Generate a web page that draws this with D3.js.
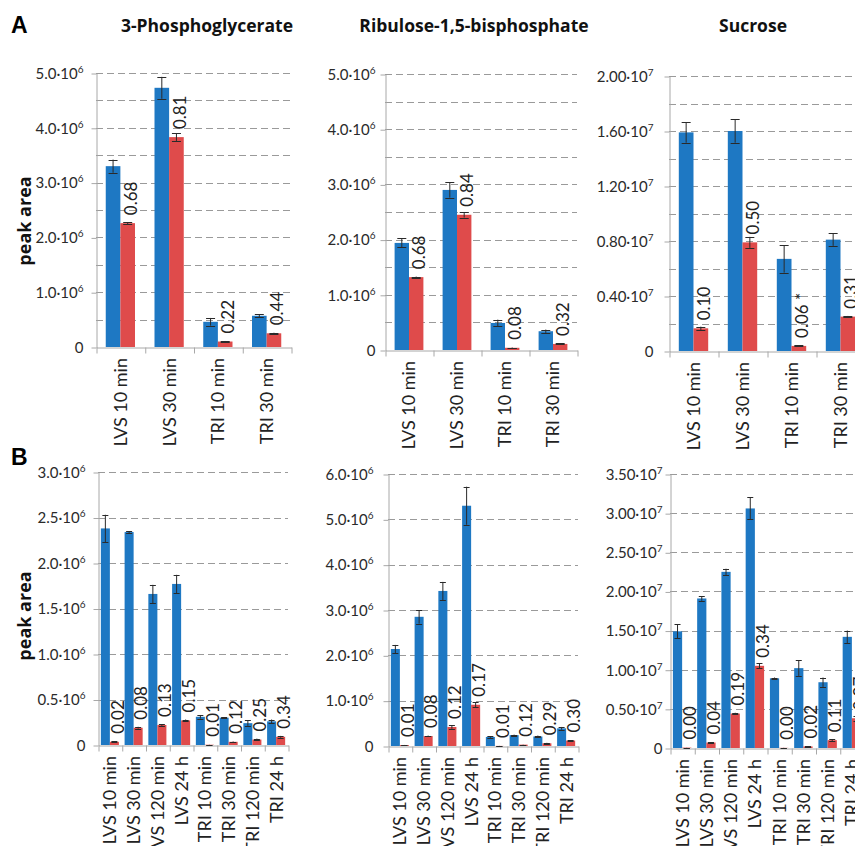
<!DOCTYPE html>
<html>
<head>
<meta charset="utf-8">
<script src="https://cdn.jsdelivr.net/npm/d3@7"></script>
<style>
  body { margin: 0; background: #fff; }
  svg { display: block; }
</style>
</head>
<body>
<svg id="chart"></svg>
<script>
var catsA = ["LVS 10 min", "LVS 30 min", "TRI 10 min", "TRI 30 min"];
var catsB = ["LVS 10 min", "LVS 30 min", "LVS 120 min", "LVS 24 h",
             "TRI 10 min", "TRI 30 min", "TRI 120 min", "TRI 24 h"];

// panel A, 3-phosphoglycerate
var pgaA = [3.30e6, 4.73e6, 0.46e6, 0.57e6];
var pgaAErr = [0.12e6, 0.20e6, 0.07e6, 0.03e6];
var pgaATreat = [2.26e6, 3.83e6, 0.10e6, 0.25e6];
var pgaATreatErr = [0.02e6, 0.07e6, 0.01e6, 0.01e6];
var pgaARatio = ["0.68", "0.81", "0.22", "0.44"];

// panel A, ribulose-1,5-bisphosphate
var rubpA = [1.94e6, 2.90e6, 0.49e6, 0.34e6];
var rubpAErr = [0.08e6, 0.14e6, 0.06e6, 0.03e6];
var rubpATreat = [1.32e6, 2.45e6, 0.04e6, 0.11e6];
var rubpATreatErr = [0.01e6, 0.05e6, 0.005e6, 0.01e6];
var rubpARatio = ["0.68", "0.84", "0.08", "0.32"];

// panel A, sucrose
var sucA = [1.59e7, 1.60e7, 0.67e7, 0.81e7];
var sucAErr = [0.075e7, 0.085e7, 0.10e7, 0.045e7];
var sucATreat = [0.165e7, 0.79e7, 0.037e7, 0.25e7];
var sucATreatErr = [0.012e7, 0.04e7, 0.004e7, 0.005e7];
var sucARatio = ["0.10", "0.50", "0.06 *", "0.31"];

// panel B, 3-phosphoglycerate
var pgaB = [2.38e6, 2.34e6, 1.66e6, 1.77e6, 0.31e6, 0.30e6, 0.24e6, 0.26e6];
var pgaBErr = [0.15e6, 0.01e6, 0.10e6, 0.10e6, 0.02e6, 0.005e6, 0.03e6, 0.02e6];
var pgaBTreat = [0.035e6, 0.19e6, 0.22e6, 0.27e6, 0.003e6, 0.035e6, 0.06e6, 0.09e6];
var pgaBTreatErr = [0.005e6, 0.01e6, 0.01e6, 0.01e6, 0.001e6, 0.003e6, 0.01e6, 0.01e6];
var pgaBRatio = ["0.02", "0.08", "0.13", "0.15", "0.01", "0.12", "0.25", "0.34"];

// panel B, ribulose-1,5-bisphosphate
var rubpB = [2.14e6, 2.85e6, 3.42e6, 5.30e6, 0.20e6, 0.24e6, 0.21e6, 0.39e6];
var rubpBErr = [0.09e6, 0.15e6, 0.20e6, 0.42e6, 0.02e6, 0.01e6, 0.02e6, 0.03e6];
var rubpBTreat = [0.02e6, 0.22e6, 0.42e6, 0.91e6, 0.002e6, 0.03e6, 0.06e6, 0.12e6];
var rubpBTreatErr = [0.003e6, 0.01e6, 0.04e6, 0.06e6, 0.001e6, 0.003e6, 0.01e6, 0.01e6];
var rubpBRatio = ["0.01", "0.08", "0.12", "0.17", "0.01", "0.12", "0.29", "0.30"];

// panel B, sucrose
var sucB = [1.49e7, 1.91e7, 2.25e7, 3.06e7, 0.89e7, 1.02e7, 0.84e7, 1.42e7];
var sucBErr = [0.09e7, 0.03e7, 0.04e7, 0.14e7, 0.01e7, 0.10e7, 0.06e7, 0.08e7];
var sucBTreat = [0.005e7, 0.07e7, 0.44e7, 1.05e7, 0.002e7, 0.02e7, 0.10e7, 0.38e7];
var sucBTreatErr = [0.001e7, 0.005e7, 0.01e7, 0.03e7, 0.001e7, 0.003e7, 0.01e7, 0.03e7];
var sucBRatio = ["0.00", "0.04", "0.19", "0.34", "0.00", "0.02", "0.11", "0.27"];

var width = 855;
var height = 846;
var blue = "#1e78c3";
var red = "#df4b4b";
var axisColor = "#a8a8a8";
var gridColor = "#9a9a9a";
var tickFont = "Lato, 'Open Sans', sans-serif";

var svg = d3.select("#chart").attr("width", width).attr("height", height);
svg.append("rect").attr("width", width).attr("height", height).attr("fill", "#fff");

var charts = [
  { cats: catsA, ctrl: pgaA, ctrlErr: pgaAErr, treat: pgaATreat, treatErr: pgaATreatErr, ratio: pgaARatio,
    x0: 96, x1: 291, yTop: 73, y0: 347, max: 5e6, grid: 0.5e6, step: 1e6, dec: 1, exp: 6, gap: 13, group: 0.6, cap: 9 },
  { cats: catsA, ctrl: rubpA, ctrlErr: rubpAErr, treat: rubpATreat, treatErr: rubpATreatErr, ratio: rubpARatio,
    x0: 385, x1: 577, yTop: 74, y0: 350, max: 5e6, grid: 0.5e6, step: 1e6, dec: 1, exp: 6, gap: 10, group: 0.6, cap: 9 },
  { cats: catsA, ctrl: sucA, ctrlErr: sucAErr, treat: sucATreat, treatErr: sucATreatErr, ratio: sucARatio,
    x0: 669, x1: 865, yTop: 76, y0: 351, max: 2e7, grid: 0.2e7, step: 0.4e7, dec: 2, exp: 7, gap: 16, group: 0.6, cap: 9 },
  { cats: catsB, ctrl: pgaB, ctrlErr: pgaBErr, treat: pgaBTreat, treatErr: pgaBTreatErr, ratio: pgaBRatio,
    x0: 98, x1: 288, yTop: 472, y0: 745, max: 3e6, grid: 0.5e6, step: 0.5e6, dec: 1, exp: 6, gap: 13, group: 0.76, cap: 6 },
  { cats: catsB, ctrl: rubpB, ctrlErr: rubpBErr, treat: rubpBTreat, treatErr: rubpBTreatErr, ratio: rubpBRatio,
    x0: 388, x1: 578, yTop: 474, y0: 746, max: 6e6, grid: 1e6, step: 1e6, dec: 1, exp: 6, gap: 15, group: 0.76, cap: 6 },
  { cats: catsB, ctrl: sucB, ctrlErr: sucBErr, treat: sucBTreat, treatErr: sucBTreatErr, ratio: sucBRatio,
    x0: 670, x1: 864, yTop: 474, y0: 748, max: 3.5e7, grid: 0.5e7, step: 0.5e7, dec: 2, exp: 7, gap: 8, group: 0.76, cap: 6 }
];

var drawChart = (c) => {
  var g = svg.append("g");
  var n = c.cats.length;

  var xScale = d3.scaleBand().domain(c.cats).range([c.x0, c.x1]);
  var pad = 1 / c.group - 1;
  var sub = d3.scaleBand().domain(["ctrl", "treat"]).range([0, xScale.bandwidth()]).paddingOuter(pad);
  var yScale = d3.scaleLinear().domain([0, c.max]).range([c.y0, c.yTop]);

  // dashed gridlines
  var gridVals = d3.range(1, Math.round(c.max / c.grid) + 1).map((i) => i * c.grid);
  g.selectAll(".grid")
    .data(gridVals)
    .enter()
    .append("line")
    .attr("x1", c.x0)
    .attr("x2", c.x1)
    .attr("y1", (d) => Math.round(yScale(d)) + 0.5)
    .attr("y2", (d) => Math.round(yScale(d)) + 0.5)
    .attr("stroke", gridColor)
    .attr("stroke-dasharray", "7,4");

  // y axis
  var tickVals = d3.range(0, Math.round(c.max / c.step) + 1).map((i) => i * c.step);
  var yAxis = d3.axisLeft(yScale)
    .tickValues(tickVals)
    .tickSize(5)
    .tickSizeOuter(0)
    .tickPadding(c.gap - 5)
    .tickFormat("");
  var ya = g.append("g").attr("transform", "translate(" + (c.x0 + 0.5) + ",0.5)").call(yAxis);
  ya.select(".domain").attr("stroke", axisColor);
  ya.selectAll(".tick line").attr("stroke", axisColor);
  ya.selectAll(".tick text")
    .attr("font-family", tickFont)
    .attr("font-size", 15)
    .attr("fill", "#2a2a2a")
    .each(function (d) {
      var t = d3.select(this);
      if (d === 0) {
        t.text("0");
        return;
      }
      var m = (d / Math.pow(10, c.exp)).toFixed(c.dec);
      t.text(m + "\u00B710");
      t.append("tspan").attr("font-size", 10).attr("dy", "-0.6em").text(String(c.exp));
    });

  // x axis with ticks at category boundaries
  var edge = d3.scaleLinear().domain([0, n]).range([c.x0, c.x1]);
  var xa = g.append("g")
    .attr("transform", "translate(0.5," + (c.y0 + 0.5) + ")")
    .call(d3.axisBottom(edge).ticks(n).tickSize(6).tickSizeOuter(0).tickFormat(""));
  xa.select(".domain").attr("stroke", axisColor);
  xa.selectAll(".tick line").attr("stroke", axisColor);

  var rows = c.cats.map((cat, i) => ({
    cat: cat, ctrl: c.ctrl[i], ctrlErr: c.ctrlErr[i],
    treat: c.treat[i], treatErr: c.treatErr[i], ratio: c.ratio[i]
  }));

  // bars
  var bars = [];
  rows.forEach((r) => {
    bars.push({ cat: r.cat, key: "ctrl", v: r.ctrl, e: r.ctrlErr });
    bars.push({ cat: r.cat, key: "treat", v: r.treat, e: r.treatErr });
  });

  g.selectAll(".bar")
    .data(bars)
    .enter()
    .append("rect")
    .attr("x", (d) => xScale(d.cat) + sub(d.key))
    .attr("width", sub.bandwidth())
    .attr("y", (d) => yScale(d.v))
    .attr("height", (d) => c.y0 - yScale(d.v))
    .attr("fill", (d) => (d.key === "ctrl" ? blue : red));

  // error bars
  var eb = g.selectAll(".err").data(bars).enter().append("g")
    .attr("stroke", "#2a2a2a")
    .attr("stroke-width", 1);
  eb.append("line")
    .attr("x1", (d) => xScale(d.cat) + sub(d.key) + sub.bandwidth() / 2)
    .attr("x2", (d) => xScale(d.cat) + sub(d.key) + sub.bandwidth() / 2)
    .attr("y1", (d) => yScale(d.v + d.e))
    .attr("y2", (d) => yScale(Math.max(0, d.v - d.e)));
  [1, -1].forEach((s) => {
    eb.append("line")
      .attr("x1", (d) => xScale(d.cat) + sub(d.key) + sub.bandwidth() / 2 - c.cap / 2)
      .attr("x2", (d) => xScale(d.cat) + sub(d.key) + sub.bandwidth() / 2 + c.cap / 2)
      .attr("y1", (d) => Math.round(yScale(Math.max(0, d.v + s * d.e))) + 0.5)
      .attr("y2", (d) => Math.round(yScale(Math.max(0, d.v + s * d.e))) + 0.5);
  });

  // ratio labels above the red bars
  g.selectAll(".ratio")
    .data(rows)
    .enter()
    .append("text")
    .attr("transform", (d) => {
      var cx = xScale(d.cat) + sub("treat") + sub.bandwidth() / 2 + 3;
      var cy = yScale(d.treat) - 8;
      return "translate(" + cx + "," + cy + ") rotate(-90)";
    })
    .attr("dy", "0.36em")
    .attr("font-family", tickFont)
    .attr("font-size", 17)
    .attr("fill", "#222")
    .text((d) => d.ratio);

  // category labels
  g.selectAll(".cat")
    .data(c.cats)
    .enter()
    .append("text")
    .attr("transform", (d) =>
      "translate(" + (xScale(d) + xScale.bandwidth() / 2) + "," + (c.y0 + 11) + ") rotate(-90)")
    .attr("dy", "0.36em")
    .attr("text-anchor", "end")
    .attr("font-family", tickFont)
    .attr("font-size", 18)
    .attr("fill", "#222")
    .text((d) => d);
};

charts.forEach(drawChart);

// titles and panel letters
var titles = [
  { text: "3-Phosphoglycerate", x: 207 },
  { text: "Ribulose-1,5-bisphosphate", x: 474 },
  { text: "Sucrose", x: 753 }
];
svg.selectAll(".title")
  .data(titles)
  .enter()
  .append("text")
  .attr("x", (d) => d.x)
  .attr("y", 32)
  .attr("text-anchor", "middle")
  .attr("font-family", "'Open Sans', sans-serif")
  .attr("font-weight", 700)
  .attr("font-size", 17.5)
  .attr("fill", "#111")
  .text((d) => d.text);

[{ t: "A", y: 33 }, { t: "B", y: 465 }].forEach((p) => {
  svg.append("text")
    .attr("x", 11)
    .attr("y", p.y)
    .attr("font-family", "'Liberation Sans', Arial, sans-serif")
    .attr("font-weight", 700)
    .attr("font-size", 23)
    .attr("fill", "#000")
    .text(p.t);
});

[221, 616].forEach((cy) => {
  svg.append("text")
    .attr("transform", "translate(31," + cy + ") rotate(-90)")
    .attr("text-anchor", "middle")
    .attr("font-family", "'Open Sans', sans-serif")
    .attr("font-weight", 700)
    .attr("font-size", 18)
    .attr("fill", "#111")
    .text("peak area");
});
</script>
</body>
</html>
